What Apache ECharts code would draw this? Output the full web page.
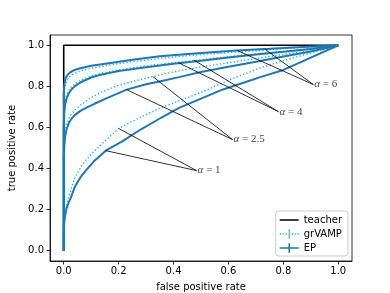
<!DOCTYPE html>
<html><head><meta charset="utf-8">
<script src="https://cdn.jsdelivr.net/npm/echarts@6/dist/echarts.min.js"></script>
<style>html,body{margin:0;padding:0;background:#fff}#c{width:390px;height:293px}</style>
</head><body><div id="c"></div>
<script>
// ----- data -----
const tickValues = [0, 0.2, 0.4, 0.6, 0.8, 1.0];
const teacher = [[0,0],[0,1],[1,1]];

const ep6 = [[0,0],[0,0.5],[0,0.76],[0.001,0.79],[0.003,0.815],[0.006,0.835],[0.01,0.848],[0.015,0.858],[0.025,0.87],[0.04,0.88],[0.06,0.888],[0.1,0.9],[0.17,0.914],[0.25,0.93],[0.35,0.946],[0.5,0.962],[0.63,0.975],[0.75,0.983],[0.87,0.992],[1,1]];
const gr6 = [[0,0],[0,0.7],[0.002,0.76],[0.005,0.8],[0.01,0.825],[0.018,0.843],[0.03,0.857],[0.05,0.87],[0.075,0.88],[0.1,0.888],[0.17,0.905],[0.25,0.92],[0.35,0.936],[0.5,0.955],[0.63,0.967],[0.75,0.978],[0.87,0.99],[1,1]];
const ep4 = [[0,0],[0,0.6],[0.002,0.67],[0.005,0.71],[0.01,0.74],[0.018,0.765],[0.028,0.785],[0.04,0.8],[0.062,0.82],[0.1,0.843],[0.135,0.857],[0.2,0.875],[0.3,0.893],[0.4,0.91],[0.5,0.925],[0.6,0.94],[0.7,0.955],[0.8,0.968],[0.9,0.982],[1,1]];
const gr4 = [[0,0],[0,0.62],[0.002,0.69],[0.005,0.73],[0.01,0.758],[0.018,0.78],[0.028,0.798],[0.04,0.812],[0.062,0.83],[0.1,0.85],[0.135,0.864],[0.2,0.88],[0.3,0.9],[0.4,0.915],[0.5,0.93],[0.6,0.945],[0.7,0.958],[0.8,0.97],[0.9,0.984],[1,1]];
const ep25 = [[0,0],[0,0.45],[0.002,0.51],[0.005,0.555],[0.01,0.59],[0.018,0.62],[0.028,0.642],[0.04,0.66],[0.062,0.682],[0.085,0.698],[0.11,0.714],[0.153,0.74],[0.229,0.784],[0.3,0.81],[0.353,0.825],[0.42,0.845],[0.5,0.87],[0.6,0.895],[0.7,0.92],[0.8,0.945],[0.9,0.97],[1,1]];
const gr25 = [[0,0],[0,0.47],[0.002,0.54],[0.005,0.585],[0.01,0.615],[0.018,0.642],[0.028,0.665],[0.04,0.685],[0.062,0.71],[0.1,0.745],[0.135,0.771],[0.2,0.805],[0.27,0.83],[0.324,0.848],[0.4,0.87],[0.5,0.895],[0.6,0.915],[0.7,0.935],[0.8,0.955],[0.9,0.975],[1,1]];
const ep1 = [[0,0],[0,0.1],[0.002,0.14],[0.005,0.17],[0.01,0.205],[0.018,0.235],[0.025,0.255],[0.04,0.31],[0.062,0.36],[0.08,0.39],[0.11,0.435],[0.153,0.487],[0.213,0.532],[0.28,0.59],[0.353,0.646],[0.42,0.695],[0.5,0.74],[0.58,0.785],[0.66,0.82],[0.716,0.845],[0.8,0.88],[0.9,0.94],[1,1]];
const gr1 = [[0,0],[0,0.1],[0.003,0.16],[0.007,0.2],[0.012,0.23],[0.019,0.265],[0.03,0.315],[0.044,0.365],[0.068,0.42],[0.1,0.47],[0.135,0.515],[0.2,0.595],[0.28,0.65],[0.353,0.695],[0.42,0.73],[0.5,0.77],[0.6,0.83],[0.716,0.89],[0.8,0.925],[0.9,0.962],[1,1]];

// annotation pointer lines (curve point -> label point -> curve point)
const anno1 = [[0.153,0.487],[0.484,0.39],[0.2,0.595]];
const anno25 = [[0.229,0.784],[0.615,0.541],[0.324,0.848]];
const anno4 = [[0.418,0.915],[0.782,0.677],[0.474,0.928]];
const anno6 = [[0.633,0.974],[0.909,0.809],[0.735,0.979]];
const labelPoints = [[0.484,0.39],[0.615,0.541],[0.782,0.677],[0.909,0.809]];
const labelTexts = ['1','2.5','4','6'];

const EPC = '#1f77b4', GRC = '#17becf';
const font = 'DejaVu Sans';

function curve(name, data, color, width, type, z) {
  return {name, type:'line', data, showSymbol:false, symbol:'none', animation:false,
    lineStyle:{color, width, type}, itemStyle:{color}, z, silent:true};
}
function anno(data){
  return {type:'line', data, showSymbol:false, symbol:'none', animation:false, silent:true,
    lineStyle:{color:'#000', width:0.8}, z:6};
}
const grDash = [1.3, 2.2];
const series = [
  curve('teacher', teacher, '#000', 1.6, 'solid', 2),
  curve('grVAMP', gr6, GRC, 1.4, grDash, 3),
  curve('grVAMP', gr4, GRC, 1.4, grDash, 3),
  curve('grVAMP', gr25, GRC, 1.4, grDash, 3),
  curve('grVAMP', gr1, GRC, 1.4, grDash, 3),
  curve('EP', ep6, EPC, 2, 'solid', 4),
  curve('EP', ep4, EPC, 2, 'solid', 4),
  curve('EP', ep25, EPC, 2, 'solid', 4),
  curve('EP', ep1, EPC, 2, 'solid', 4),
  anno(anno1), anno(anno25), anno(anno4), anno(anno6),
  {type:'scatter', data: labelPoints.map((p,i)=>({value:p, t:labelTexts[i]})), symbolSize:0.01, silent:true, animation:false, z:7,
   label:{show:true, position:'right', distance:1, color:'#111',
     formatter: p => '{a|α} = ' + p.data.t,
     fontFamily:'Liberation Serif', fontSize:11,
     rich:{a:{fontStyle:'italic', fontFamily:'Liberation Serif', fontSize:11, color:'#111'}}}}
];

const axisCommon = {
  type:'value', min:-0.05, max:1.05,
  axisLine:{show:true, onZero:false, lineStyle:{color:'#000', width:0.8}},
  axisTick:{show:true, inside:false, length:3.5, customValues:tickValues, lineStyle:{color:'#000', width:0.8}},
  axisLabel:{customValues:tickValues, formatter:v=>v.toFixed(1), color:'#000', fontFamily:font, fontSize:10},
  splitLine:{show:false},
  nameLocation:'middle',
  nameTextStyle:{color:'#000', fontFamily:font, fontSize:10}
};

const chart = echarts.init(document.getElementById('c'), null, {renderer:'canvas'});
chart.setOption({
  animation:false,
  backgroundColor:'#fff',
  grid:{left:50, right:38, top:35, bottom:32, containLabel:false, outerBoundsMode:'none', show:true, borderColor:'#000', borderWidth:0.8, backgroundColor:'transparent'},
  xAxis: Object.assign({}, axisCommon, {name:'false positive rate', nameGap:21, axisLabel:Object.assign({}, axisCommon.axisLabel, {margin:5})}),
  yAxis: Object.assign({}, axisCommon, {name:'true positive rate', nameGap:29, axisLabel:Object.assign({}, axisCommon.axisLabel, {margin:6})}),
  legend:{
    orient:'vertical', right:42, bottom:37, itemGap:4, itemWidth:19, itemHeight:10,
    backgroundColor:'rgba(255,255,255,0.85)', borderColor:'#ccc', borderWidth:1, borderRadius:3,
    padding:[4,6,3,4],
    textStyle:{color:'#000', fontFamily:font, fontSize:10},
    data:[
      {name:'teacher', icon:'path://M0,0h20v1.6h-20z', itemStyle:{color:'#000', borderWidth:0}},
      {name:'grVAMP', icon:'path://M0,4.3h1.4v1.4h-1.4zM3,4.3h1.4v1.4h-1.4zM6,4.3h1.4v1.4h-1.4zM12.6,4.3h1.4v1.4h-1.4zM15.6,4.3h1.4v1.4h-1.4zM18.6,4.3h1.4v1.4h-1.4zM9.4,0h1.2v10h-1.2z', itemStyle:{color:GRC, borderWidth:0}},
      {name:'EP', icon:'path://M0,4.2h20v1.6h-20zM9.2,0h1.6v10h-1.6z', itemStyle:{color:EPC, borderWidth:0}}
    ]
  },
  series
});
</script>
</body></html>
